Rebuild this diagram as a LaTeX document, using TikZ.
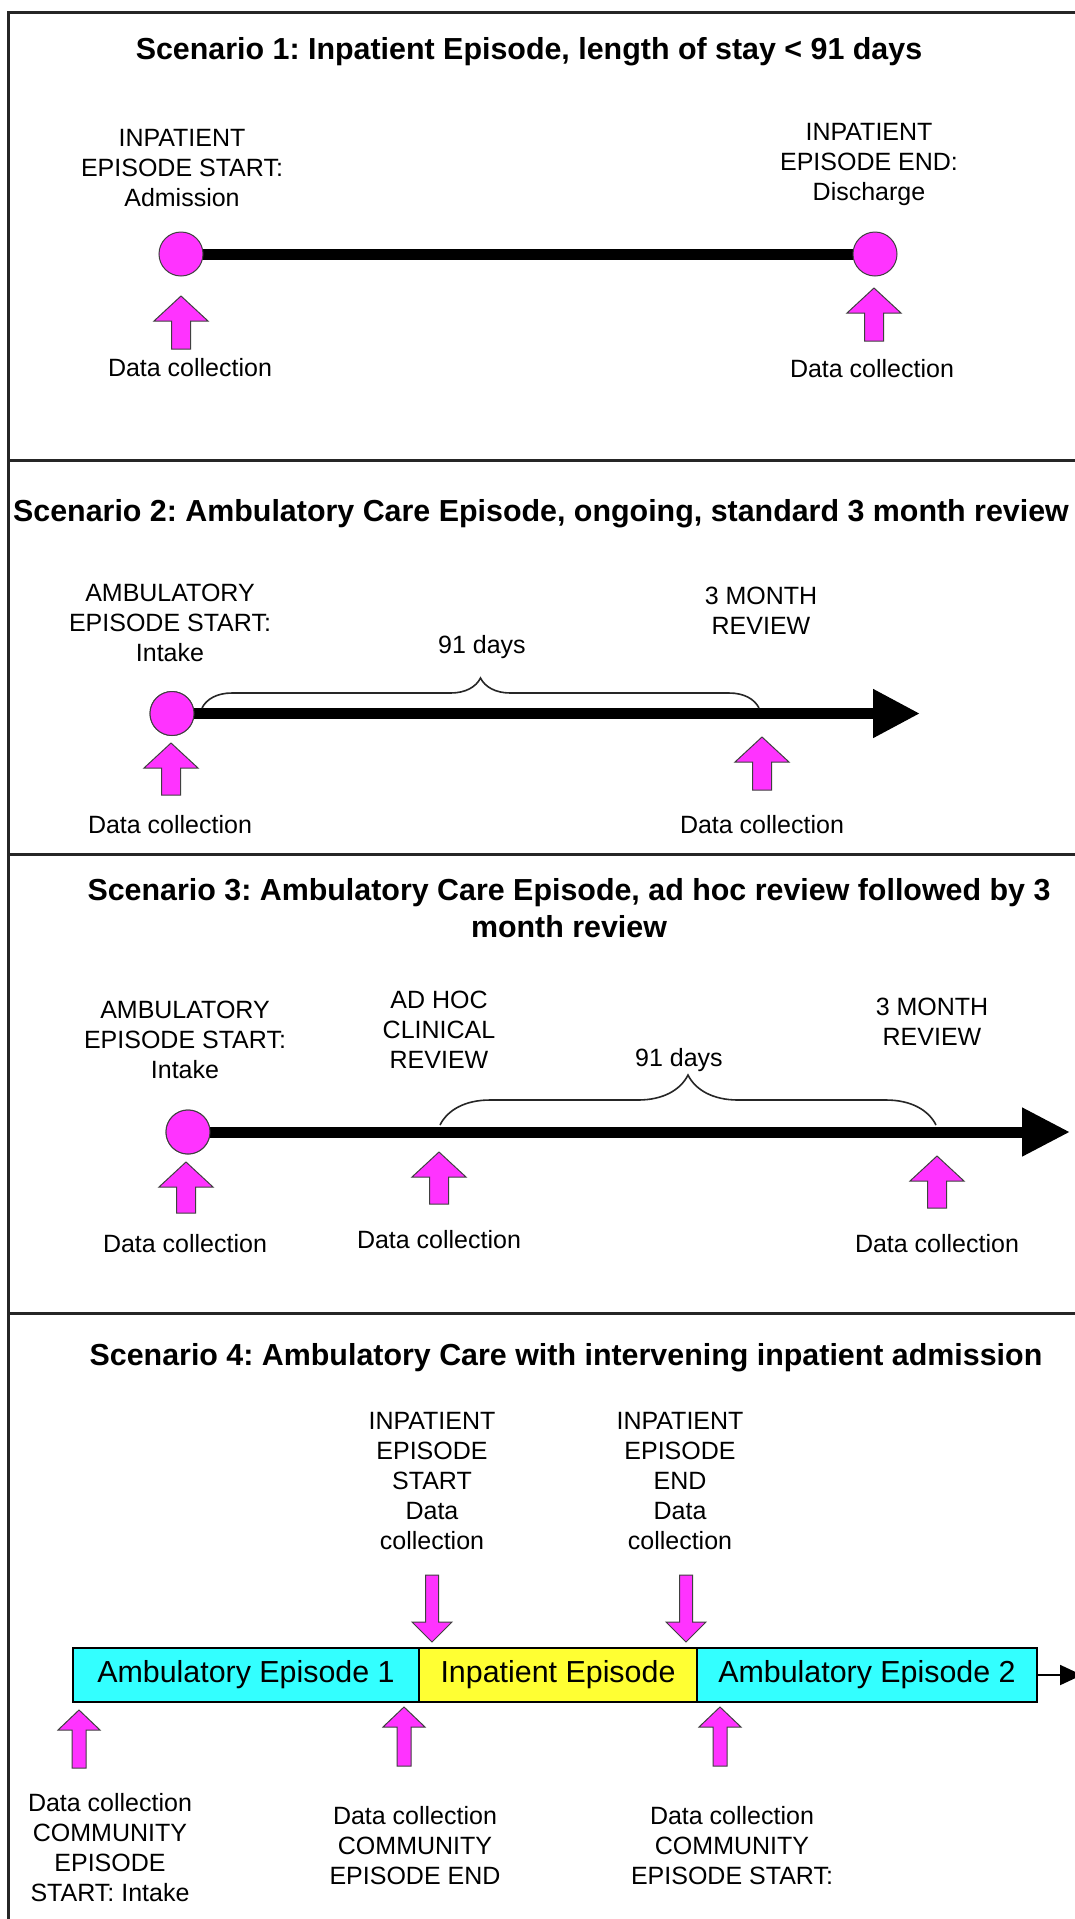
\documentclass[tikz,border=0pt]{standalone}
\usepackage{fontspec}
\setmainfont{Liberation Sans}
\frenchspacing
\usetikzlibrary{arrows.meta,decorations.pathreplacing}
\definecolor{mag}{HTML}{FF33FF}
\definecolor{cyn}{HTML}{33FFFF}
\definecolor{ylw}{HTML}{FFFF33}
\newcommand{\blkup}[6]{%
  \filldraw[blk] (#1,#2) -- ({#1+#4},{#2+#5}) -- ({#1+#6},{#2+#5}) -- ({#1+#6},#3)
    -- ({#1-#6},#3) -- ({#1-#6},{#2+#5}) -- ({#1-#4},{#2+#5}) -- cycle;}
\begin{document}
\begin{tikzpicture}[x=0.5pt,y=-0.5pt,
  lbl/.style={font=\fontsize{12.5}{15}\selectfont, align=center, inner sep=0pt},
  ttl/.style={font=\fontsize{15.2}{18.5}\selectfont\bfseries, align=center, inner sep=0pt},
  dot/.style={circle, fill=mag, draw=black!75, line width=0.5pt, minimum size=22pt, inner sep=0pt},
  blk/.style={fill=mag, draw=black!75, line width=0.5pt},
  frame/.style={line width=1.5pt, draw=black!85},
  thick line/.style={line width=5.5pt},
  brc/.style={draw=black!85, line width=0.8pt},
  ebox/.style={draw, line width=1.4pt, minimum height=27pt, inner sep=0pt, outer sep=0pt,
     font=\fontsize{15.2}{18}\selectfont}
]
\clip (0,0) rectangle (1075,1919);
\fill[white] (0,0) rectangle (1075,1919);
% frame
\draw[frame] (1090,12) -- (8,12) -- (8,1930);
\draw[frame] (8,460) -- (1090,460);
\draw[frame] (8,854) -- (1090,854);
\draw[frame] (8,1313) -- (1090,1313);

% ---------------- Scenario 1
\node[ttl] (t1) at (529,52) {Scenario 1: Inpatient Episode, length of stay < 91 days};
\node[lbl] (s1a) at (182,168) {INPATIENT\\EPISODE START:\\Admission};
\node[lbl] (s1b) at (869,164) {INPATIENT\\EPISODE END:\\Discharge};
\draw[thick line] (181,254) -- (875,254);
\node[dot] (c1) at (181,254) {};
\node[dot] (c2) at (875,254) {};
\blkup{181}{296}{349}{27}{25}{9.5}
\blkup{874}{288}{341}{27}{25}{9.5}
\node[lbl] (d1a) at (190,368) {Data collection};
\node[lbl] (d1b) at (872,369) {Data collection};

% ---------------- Scenario 2
\node[ttl] (t2) at (541,514) {Scenario 2: Ambulatory Care Episode, ongoing, standard 3 month review};
\node[lbl] (s2a) at (170,623) {AMBULATORY\\EPISODE START:\\Intake};
\node[lbl] (s2b) at (761,611) {3 MONTH\\REVIEW};
\node[lbl] (n2) at (482,647) {91 days};
\coordinate (e2) at (920,713.5);
\node[dot] (c3) at (172,713.5) {};
\draw[thick line, -{Triangle[length=23.5pt,width=23pt]}] (c3.center) -- (e2);
\node[dot] at (172,713.5) {};
\coordinate (b2l) at (202,708);
\coordinate (b2r) at (759,708);
\draw[brc, decorate, decoration={brace, amplitude=15pt}] (b2l) -- (b2r);
\blkup{171}{743}{795}{27}{25}{9.5}
\blkup{762}{737}{790}{27}{25}{9.5}
\node[lbl] (d2a) at (170,825) {Data collection};
\node[lbl] (d2b) at (762,825) {Data collection};

% ---------------- Scenario 3
\node[ttl] (t3) at (569,908) {Scenario 3: Ambulatory Care Episode, ad hoc review followed by 3\\month review};
\node[lbl] (s3a) at (185,1040) {AMBULATORY\\EPISODE START:\\Intake};
\node[lbl] (s3b) at (439,1030) {AD HOC\\CLINICAL\\REVIEW};
\node[lbl] (s3c) at (932,1022) {3 MONTH\\REVIEW};
\node[lbl] (n3) at (679,1060) {91 days};
\coordinate (e3) at (1070,1132);
\node[dot] (c4) at (188,1132) {};
\draw[thick line, -{Triangle[length=24pt,width=23pt]}] (c4.center) -- (e3);
\node[dot] at (188,1132) {};
\coordinate (b3l) at (440,1125);
\coordinate (b3r) at (936,1125);
\draw[brc, decorate, decoration={brace, amplitude=25pt}] (b3l) -- (b3r);
\blkup{186}{1162}{1213}{27}{25}{9.5}
\blkup{439}{1152}{1204}{27}{25}{9.5}
\blkup{937}{1156}{1208}{27}{25}{9.5}
\node[lbl] (d3a) at (185,1244) {Data collection};
\node[lbl] (d3b) at (439,1240) {Data collection};
\node[lbl] (d3c) at (937,1244) {Data collection};

% ---------------- Scenario 4
\node[ttl] (t4) at (566,1358) {Scenario 4: Ambulatory Care with intervening inpatient admission};
\node[lbl] (s4a) at (432,1481) {INPATIENT\\EPISODE\\START\\Data\\collection};
\node[lbl] (s4b) at (680,1481) {INPATIENT\\EPISODE\\END\\Data\\collection};
\blkup{432}{1642}{1575}{20}{-20}{6.5}
\blkup{686}{1642}{1575}{20}{-20}{6.5}
\node[ebox, fill=cyn, minimum width=173pt] (a1) at (246,1675) {Ambulatory Episode 1};
\node[ebox, fill=ylw, minimum width=139pt] (ip) at (558,1675) {Inpatient Episode};
\node[ebox, fill=cyn, minimum width=170pt] (a2) at (867,1675) {Ambulatory Episode 2};
\coordinate (e4) at (1082,1675);
\draw[line width=1pt, -{Triangle[length=11pt,width=10pt]}] (a2.east) -- (e4);
\blkup{79}{1710}{1768}{21}{20}{7}
\blkup{404}{1707}{1766}{21}{20}{7}
\blkup{720}{1707}{1766}{21}{20}{7}
\node[lbl] (d4a) at (110,1848) {Data collection\\COMMUNITY\\EPISODE\\START: Intake};
\node[lbl] (d4b) at (415,1846) {Data collection\\COMMUNITY\\EPISODE END};
\node[lbl] (d4c) at (732,1846) {Data collection\\COMMUNITY\\EPISODE START:};
\end{tikzpicture}
\end{document}
